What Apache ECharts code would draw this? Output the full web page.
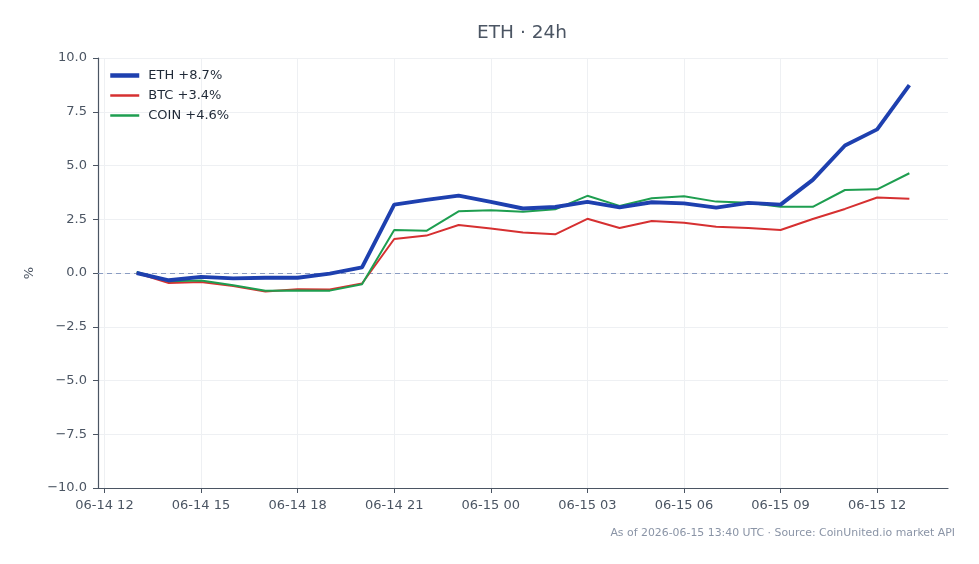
<!DOCTYPE html>
<html>
<head>
<meta charset="utf-8">
<script src="https://cdn.jsdelivr.net/npm/echarts@6/dist/echarts.min.js"></script>
<style>html,body{margin:0;padding:0;background:#fff}#c{width:979px;height:564px}</style>
</head>
<body>
<div id="c"></div>
<script>
// hours after 06-14 12:00 UTC (06-14 13:00 ... 06-15 13:00)
const hours = [1,2,3,4,5,6,7,8,9,10,11,12,13,14,15,16,17,18,19,20,21,22,23,24,25];
const ethValues  = [0.00,-0.34,-0.18,-0.25,-0.22,-0.22,-0.03,0.26,3.18,3.40,3.60,3.31,3.00,3.07,3.31,3.05,3.29,3.24,3.04,3.26,3.18,4.33,5.93,6.68,8.74];
const btcValues  = [0.00,-0.47,-0.42,-0.60,-0.86,-0.76,-0.77,-0.49,1.58,1.74,2.23,2.07,1.88,1.80,2.52,2.09,2.42,2.34,2.15,2.09,2.00,2.51,2.98,3.51,3.45];
const coinValues = [0.05,-0.38,-0.35,-0.57,-0.83,-0.81,-0.82,-0.52,2.00,1.96,2.87,2.92,2.85,2.96,3.59,3.12,3.48,3.57,3.32,3.27,3.08,3.08,3.86,3.89,4.64];
const seriesNames = ['ETH +8.7%','BTC +3.4%','COIN +4.6%'];
const xTickHours = [0,3,6,9,12,15,18,21,24];
const xTickLabels = ['06-14 12','06-14 15','06-14 18','06-14 21','06-15 00','06-15 03','06-15 06','06-15 09','06-15 12'];
const titleText = 'ETH · 24h';
const footerText = 'As of 2026-06-15 13:40 UTC · Source: CoinUnited.io market API';

const colors = ['#1e40af', '#d63031', '#1e9e50'];
const widths = [3.9, 2, 2];
const legendWidths = [4.5, 2.5, 2.5];
const pair = v => hours.map((h, i) => [h, v[i]]);
const font = 'DejaVu Sans';
const chart = echarts.init(document.getElementById('c'), null, {renderer: 'canvas'});
chart.setOption({
  animation: false,
  backgroundColor: '#ffffff',
  legend: {
    orient: 'vertical', left: 103, top: 64, itemWidth: 29, itemHeight: 14, itemGap: 7,
    itemStyle: {color: 'rgba(0,0,0,0)', borderWidth: 0, opacity: 0},
    textStyle: {fontFamily: font, fontSize: 13, color: '#1f2937', padding: [0, 0, 0, 4]},
    data: seriesNames.map((n, i) => ({name: n, lineStyle: {width: legendWidths[i], color: colors[i]}}))
  },
  grid: {left: 98, right: 31, top: 58, bottom: 76, containLabel: false, outerBoundsMode: 'none'},
  xAxis: {
    type: 'value', min: -0.2, max: 26.2,
    axisLine: {show: true, onZero: false, lineStyle: {color: '#4b5563', width: 1.2}},
    axisTick: {show: true, customValues: xTickHours, length: 5, lineStyle: {color: '#4b5563'}},
    axisLabel: {
      customValues: xTickHours, margin: 11,
      fontFamily: font, fontSize: 13, color: '#4b5563',
      formatter: v => { const i = xTickHours.indexOf(v); return i >= 0 ? xTickLabels[i] : ''; }
    },
    splitLine: {show: true, lineStyle: {color: '#eef0f3', width: 1}}
  },
  yAxis: {
    type: 'value', min: -10, max: 10, interval: 2.5,
    name: '%', nameLocation: 'middle', nameGap: 61, nameRotate: 90,
    nameTextStyle: {fontFamily: font, fontSize: 13, color: '#4b5563'},
    axisLine: {show: true, onZero: false, lineStyle: {color: '#4b5563', width: 1.2}},
    axisTick: {show: true, length: 5, lineStyle: {color: '#4b5563'}},
    axisLabel: {
      margin: 11, fontFamily: font, fontSize: 13, color: '#4b5563',
      formatter: v => (v < 0 ? '\u2212' + Math.abs(v).toFixed(1) : v.toFixed(1))
    },
    splitLine: {show: true, lineStyle: {color: '#eef0f3', width: 1}}
  },
  series: [
    {
      name: seriesNames[0], type: 'line', data: pair(ethValues), symbol: 'none', z: 5,
      lineStyle: {color: colors[0], width: widths[0]}, itemStyle: {color: colors[0]},
      markLine: {
        silent: true, symbol: 'none', label: {show: false}, z: 1,
        lineStyle: {color: '#8a9cc2', type: [5, 4], width: 1},
        data: [{yAxis: 0}]
      }
    },
    {
      name: seriesNames[1], type: 'line', data: pair(btcValues), symbol: 'none', z: 4,
      lineStyle: {color: colors[1], width: widths[1]}, itemStyle: {color: colors[1]}
    },
    {
      name: seriesNames[2], type: 'line', data: pair(coinValues), symbol: 'none', z: 4,
      lineStyle: {color: colors[2], width: widths[2]}, itemStyle: {color: colors[2]}
    }
  ],
  graphic: [
    {
      type: 'text', x: 522, y: 24,
      style: {text: titleText, fontFamily: font, fontSize: 18.5, fill: '#4b5563', textAlign: 'center'}
    },
    {
      type: 'text', right: 24, top: 528,
      style: {text: footerText, fontFamily: font, fontSize: 10.9, fill: '#8a94a6'}
    }
  ]
});
</script>
</body>
</html>
